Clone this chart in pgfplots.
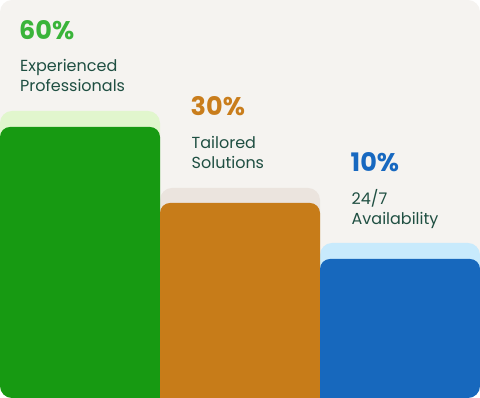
\documentclass[border=0pt]{standalone}
\usepackage{pgfplots}
\pgfplotsset{compat=1.18}
\usepackage{fontspec}
\setmainfont{Poppins}
\definecolor{cardbg}{HTML}{F5F3F0}
\definecolor{gdark}{HTML}{179A12}
\definecolor{glight}{HTML}{E1F6CD}
\definecolor{odark}{HTML}{C77C19}
\definecolor{olight}{HTML}{EBE4DE}
\definecolor{bdark}{HTML}{1768BD}
\definecolor{blight}{HTML}{C8EAFC}
\definecolor{gtxt}{HTML}{3AB43A}
\definecolor{otxt}{HTML}{C97D1C}
\definecolor{btxt}{HTML}{1768C0}
\definecolor{bodytxt}{HTML}{1F4F42}
\begin{document}
\begin{tikzpicture}
\useasboundingbox (0,0) rectangle (480pt,398pt);
\begin{scope}
\clip[rounded corners=12pt] (0,0) rectangle (480pt,398pt);
\fill[cardbg] (0,0) rectangle (480pt,398pt);
\begin{axis}[
  scale only axis, width=480pt, height=398pt,
  xmin=0, xmax=480, ymin=0, ymax=398,
  hide axis, clip=true,
  every axis plot/.append style={draw=none},
]
% light (shadow) bars: heights 287, 210, 155
\addplot[fill=glight, rounded corners=12pt] coordinates {(0,-30) (0,287) (160,287) (160,-30)};
\addplot[fill=olight, rounded corners=12pt] coordinates {(160,-30) (160,210) (320,210) (320,-30)};
\addplot[fill=blight, rounded corners=12pt] coordinates {(320,-30) (320,155) (480,155) (480,-30)};
% main bars: heights 271, 195, 139
\addplot[fill=gdark, rounded corners=10pt] coordinates {(0,-30) (0,271) (160,271) (160,-30)};
\addplot[fill=odark, rounded corners=10pt] coordinates {(160,-30) (160,195) (320,195) (320,-30)};
\addplot[fill=bdark, rounded corners=10pt] coordinates {(320,-30) (320,139) (480,139) (480,-30)};
% labels
\node[anchor=base west, inner sep=0pt, text=gtxt, font=\fontsize{25.5}{26}\selectfont\bfseries] at (axis cs:19,358.3) {60\%};
\node[anchor=base west, inner sep=0pt, text=bodytxt, font=\fontsize{16}{20}\selectfont] at (axis cs:20,326.3) {Experienced};
\node[anchor=base west, inner sep=0pt, text=bodytxt, font=\fontsize{16}{20}\selectfont] at (axis cs:20,306.3) {Professionals};
\node[anchor=base west, inner sep=0pt, text=otxt, font=\fontsize{25.5}{26}\selectfont\bfseries] at (axis cs:190.5,282) {30\%};
\node[anchor=base west, inner sep=0pt, text=bodytxt, font=\fontsize{16}{20}\selectfont] at (axis cs:191.5,249.7) {Tailored};
\node[anchor=base west, inner sep=0pt, text=bodytxt, font=\fontsize{16}{20}\selectfont] at (axis cs:191.5,229.7) {Solutions};
\node[anchor=base west, inner sep=0pt, text=btxt, font=\fontsize{25.5}{26}\selectfont\bfseries] at (axis cs:350.5,226.3) {10\%};
\node[anchor=base west, inner sep=0pt, text=bodytxt, font=\fontsize{16}{20}\selectfont] at (axis cs:351.5,193) {24/7};
\node[anchor=base west, inner sep=0pt, text=bodytxt, font=\fontsize{16}{20}\selectfont] at (axis cs:351.5,173) {Availability};
\end{axis}
\end{scope}
\end{tikzpicture}
\end{document}
